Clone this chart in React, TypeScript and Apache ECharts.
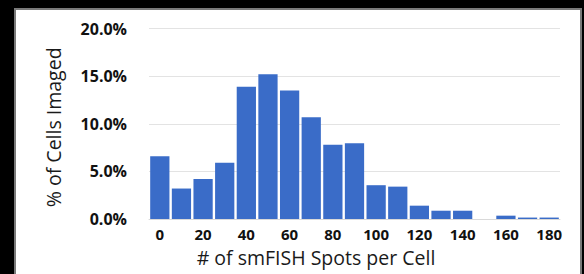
import React, { useEffect, useRef } from "react";
import * as echarts from "echarts";

const categories = ["0", "10", "20", "30", "40", "50", "60", "70", "80", "90", "100", "110", "120", "130", "140", "150", "160", "170", "180"];
const percentCells = [6.6, 3.2, 4.2, 5.9, 13.9, 15.2, 13.5, 10.7, 7.8, 7.95, 3.55, 3.4, 1.4, 0.87, 0.87, 0, 0.35, 0.15, 0.15];
const yTicks = { min: 0, max: 20, interval: 5 };
const xTitle = "# of smFISH Spots per Cell";
const yTitle = "% of Cells Imaged";

export default function App() {
  const ref = useRef<HTMLDivElement>(null);
  useEffect(() => {
    document.body.style.margin = "0";
    document.body.style.background = "#000";
    if (!ref.current) return;
    const chart = echarts.init(ref.current, null, { renderer: "svg" });
    const font = "'Open Sans', 'Noto Sans', sans-serif";
    chart.setOption({
      animation: false,
      textStyle: { fontFamily: font },
      grid: { left: 149, right: 24, top: 28.6, bottom: 55 },
      graphic: [
        {
          type: "text",
          x: 316,
          y: 257,
          style: {
            text: xTitle,
            fontSize: 19.5,
            fontFamily: font,
            fill: "#1a1a1a",
            align: "center",
            verticalAlign: "middle",
          },
        },
      ],
      xAxis: {
        type: "category",
        data: categories,
        axisLine: { lineStyle: { color: "#d9d9d9", width: 1 } },
        axisTick: { show: false },
        axisLabel: {
          interval: 1,
          fontSize: 15,
          fontWeight: "bold",
          color: "#111",
          margin: 7,
          fontFamily: font,
        },
      },
      yAxis: {
        type: "value",
        min: yTicks.min,
        max: yTicks.max,
        interval: yTicks.interval,
        name: yTitle,
        nameLocation: "middle",
        nameGap: 86,
        nameRotate: 90,
        nameTextStyle: { fontSize: 19.5, color: "#1a1a1a", fontFamily: font, padding: [0, 7, 0, 0] },
        axisLine: { show: false },
        axisTick: { show: false },
        splitLine: { lineStyle: { color: "#e3e3e3", width: 1 } },
        axisLabel: {
          formatter: (v: number) => v.toFixed(1) + "%",
          fontSize: 16,
          fontWeight: "bold",
          color: "#111",
          margin: 22,
          fontFamily: font,
        },
      },
      series: [
        {
          type: "bar",
          data: percentCells,
          barCategoryGap: "11%",
          itemStyle: { color: "#3a6cc8" },
        },
      ],
    });
    return () => chart.dispose();
  }, []);
  return (
    <div style={{ position: "fixed", left: 0, top: 0, width: 584, height: 274, background: "#000", overflow: "hidden" }}>
      <div
        style={{
          position: "absolute",
          left: 14,
          top: 8,
          width: 564,
          height: 300,
          background: "#fff",
          border: "2px solid #7a7a7a",
        }}
      />
      <div ref={ref} style={{ position: "absolute", left: 0, top: 0, width: 584, height: 274 }} />
    </div>
  );
}
